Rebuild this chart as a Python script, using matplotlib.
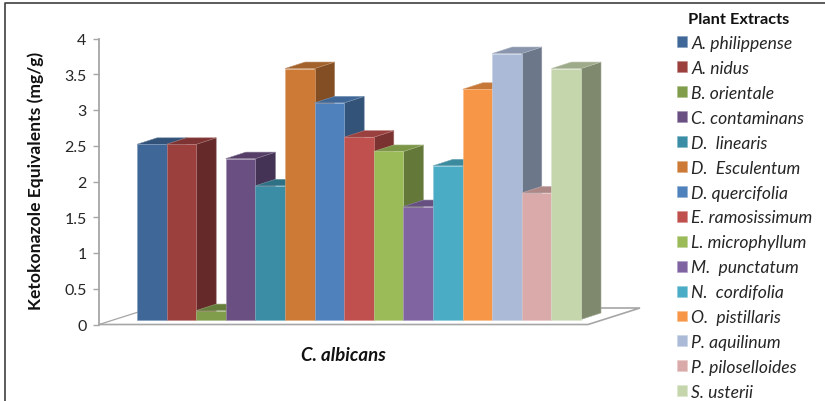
import numpy as np
import matplotlib
matplotlib.use('Agg')
import matplotlib.pyplot as plt

from matplotlib.lines import Line2D
from matplotlib.patches import Polygon

plt.rcParams['font.family'] = ['Lato', 'DejaVu Sans']

extracts = ['A. philippense', 'A. nidus', 'B. orientale', 'C. contaminans', 'D.  linearis',
            'D.  Esculentum', 'D. quercifolia', 'E. ramosissimum', 'L. microphyllum',
            'M.  punctatum', 'N.  cordifolia', 'O.  pistillaris', 'P. aquilinum',
            'P. piloselloides', 'S. usterii']
values = [2.45, 2.45, 0.125, 2.25, 1.87, 3.51, 3.03, 2.55, 2.35, 1.58, 2.15, 3.22, 3.72, 1.77, 3.51]
colors = ['#3f6797', '#9c403e', '#7f9d4a', '#6a4f83', '#3a8da5', '#cc7a36', '#4f81bd', '#c0504d',
          '#9bbb59', '#8064a2', '#4bacc6', '#f79646', '#aabad7', '#d9aaa9', '#c6d6ac']
yticks = [0, 0.5, 1, 1.5, 2, 2.5, 3, 3.5, 4]
yticklabels = ['0', '0.5', '1', '1.5', '2', '2.5', '3', '3.5', '4']

W, H = 825, 402
GRAY = '#a6a6a6'

# fake 3d: pixel sizes turned into data units below
BAR_PX = 29.6
UNIT_PX = 71.5
X0, X1 = 99, 640
Y0, Y1 = 325.5, 39.5

depth_x = 20 / BAR_PX
depth_y = 6.5 / UNIT_PX
floor_y = 5 / UNIT_PX


def shade(color, k):
    return np.array(matplotlib.colors.to_rgb(color)) * k


def lighten(color, k):
    c = np.array(matplotlib.colors.to_rgb(color))
    return c + (1 - c) * k


fig = plt.figure(figsize=(W / 100, H / 100), dpi=100)
ax = fig.add_axes([X0 / W, 1 - Y0 / H, (X1 - X0) / W, (Y0 - Y1) / H])
ax.set_xlim((X0 - 137) / BAR_PX, (X1 - 137) / BAR_PX)
ax.set_ylim(0, 4)

# floor outline
front_r = (588 - 137) / BAR_PX
back_dx = 52 / BAR_PX
back_dy = 16.5 / UNIT_PX
left = ax.get_xlim()[0]
ax.plot([left, front_r, front_r + back_dx, 0.6], [0, 0, back_dy, back_dy], color=GRAY, lw=1.2,
        solid_joinstyle='miter', zorder=1, clip_on=False)
ax.plot([left, left + back_dx], [0, back_dy], color=GRAY, lw=0.9, zorder=1)

handles = []
for i, (val, col) in enumerate(zip(values, colors)):
    top = val + floor_y
    side = Polygon([(i + 1, floor_y), (i + 1 + depth_x, floor_y + depth_y),
                    (i + 1 + depth_x, top + depth_y), (i + 1, top)],
                   facecolor=shade(col, 0.64), edgecolor=lighten(shade(col, 0.64), 0.3), lw=0.4, zorder=2 + i)
    cap = Polygon([(i, top), (i + depth_x, top + depth_y), (i + 1 + depth_x, top + depth_y), (i + 1, top)],
                  facecolor=shade(col, 0.8), edgecolor=lighten(shade(col, 0.8), 0.3), lw=0.4, zorder=2 + i)
    ax.add_patch(side)
    ax.add_patch(cap)
    b = ax.bar(i, val, width=1, bottom=floor_y, align='edge', color=col, edgecolor=lighten(col, 0.35),
               lw=0.4, zorder=2.5 + i, label=extracts[i])
    handles.append(b)

for s in ['top', 'right', 'bottom']:
    ax.spines[s].set_visible(False)
ax.spines['left'].set_color(GRAY)
ax.spines['left'].set_linewidth(1.3)
ax.set_xticks([])
ax.set_yticks(yticks)
ax.set_yticklabels(yticklabels)
ax.tick_params(axis='y', length=4, width=1, color=GRAY, labelsize=11.5, labelcolor='#262626', pad=5)

ax.set_ylabel('Ketokonazole Equivalents (mg/g)', fontsize=12.6, fontweight='bold', color='#111111')
ax.yaxis.set_label_coords((44 - X0) / (X1 - X0), (Y0 - 181) / (Y0 - Y1))
ax.set_xlabel('C. albicans', fontsize=13.4, fontweight='bold', style='italic', color='#111111')
ax.xaxis.set_label_coords((343 - X0) / (X1 - X0), (Y0 - 347) / (Y0 - Y1))

leg = ax.legend(handles=handles, loc='upper left', bbox_to_anchor=(677 / W, 1 - 36 / H),
                bbox_transform=fig.transFigure, frameon=False,
                prop={'size': 12.6, 'style': 'italic'}, labelcolor='#262626',
                handlelength=0.58, handleheight=0.58, handletextpad=0.23,
                labelspacing=0.51, borderpad=0, borderaxespad=0)
fig.text(738.5 / W, 1 - 19.5 / H, 'Plant Extracts', fontsize=11.8, fontweight='bold', color='#111111',
         ha='center', va='center')

# outer frame, open to the right and the bottom
fig.add_artist(Line2D([5 / W, 5 / W, 1], [0, 1 - 4 / H, 1 - 4 / H], color='#404040', lw=1.2))

fig.savefig('out.png', dpi=100)
